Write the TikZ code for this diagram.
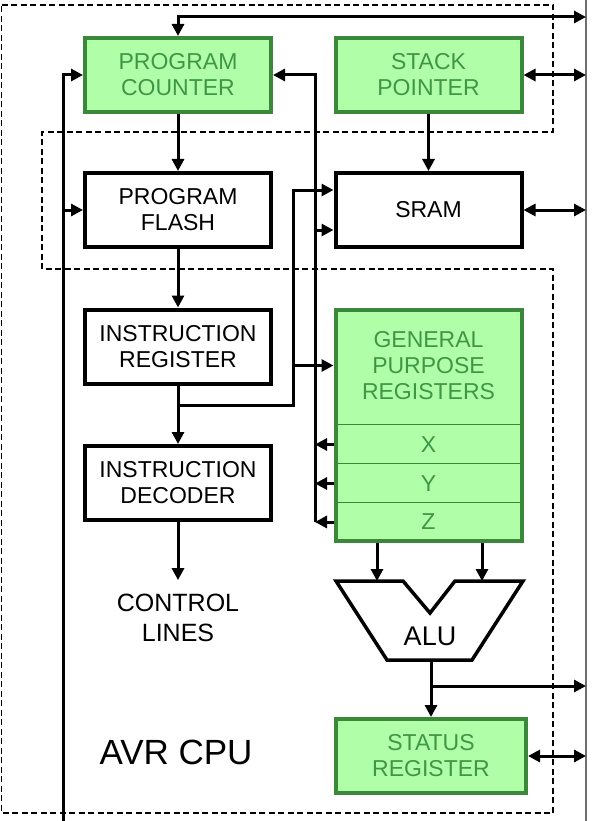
\documentclass[tikz,border=0pt]{standalone}
\usepackage{fontspec}
\setmainfont{Liberation Sans}
\usepackage{tikz}
\usetikzlibrary{arrows.meta,positioning,calc}
\definecolor{RegFill}{HTML}{B0FFA8}
\definecolor{RegLine}{HTML}{3B883B}
\definecolor{RegText}{HTML}{3F9646}
\definecolor{BusGray}{HTML}{6E6E6E}

\begin{document}
\begin{tikzpicture}[x=1pt,y=-1pt,font=\fontsize{23}{26}\selectfont,
  blk/.style={draw,line width=4pt,minimum width=186pt,minimum height=74pt,align=center,inner sep=0pt},
  reg/.style={blk,draw=RegLine,fill=RegFill,text=RegText},
  regrow/.style={minimum width=185pt,minimum height=39pt,inner sep=0pt,text=RegText},
  e/.style={-{Triangle[length=12pt,width=12pt]},line width=3pt},
  ee/.style={{Triangle[length=12pt,width=12pt]}-{Triangle[length=12pt,width=12pt]},line width=3pt},
  cpu/.style={dash pattern=on 6pt off 3.5pt,line width=1.8pt}]
  \useasboundingbox (0,0) rectangle (605,821);
  \draw[cpu] (1.5,5) -- (553,5) -- (553,132) -- (42,132) -- (42,269) -- (553,269) -- (553,813) -- (1.5,813) -- cycle;
  \node[reg] (pc) at (178,75) {PROGRAM\\COUNTER};
  \node[reg] (sp) at (428.5,75) {STACK\\POINTER};
  \node[blk] (flash) at (178,210) {PROGRAM\\FLASH};
  \node[blk] (sram) at (428.5,210) {SRAM};
  \node[blk] (ir) at (178,346.5) {INSTRUCTION\\REGISTER};
  \node[blk] (idec) at (178,483) {INSTRUCTION\\DECODER};
  \node[reg,minimum height=231pt] (gpr) at (428.5,425.5) {};
  \node[align=center,text=RegText] (gtxt) at (428.5,365.5) {GENERAL\\PURPOSE\\REGISTERS};
  \node[regrow] (rx) at (428.5,444.5) {X};
  \node[regrow] (ry) at (428.5,483.5) {Y};
  \node[regrow] (rz) at (428.5,522) {Z};
  \foreach \r in {rx,ry,rz}
    \draw[RegLine,line width=1.2pt] (\r.north west) -- (\r.north east);
  \node[reg,minimum width=190pt] (sreg) at (431,756) {STATUS\\REGISTER};
  \draw[line width=3.5pt] (336,581) -- (403,581) -- (430,613) -- (455,581) -- (523,581) -- (472,660) -- (387,660) -- cycle;
  \node[font=\fontsize{27}{30}\selectfont] (alu) at (430,636) {ALU};
  \node[align=center,inner sep=0pt,outer ysep=14pt,font=\fontsize{25}{30}\selectfont] (ctl) at (178,618) {CONTROL\\LINES};
  \node[font=\fontsize{35}{40}\selectfont] (cpuname) at (176,752) {AVR CPU};
  \coordinate (rtop) at (586,0);
  \coordinate (rbot) at (586,821);
  \coordinate (top) at (586,17);
  \coordinate (lbus) at (63,821);
  \coordinate (abus) at (315,0);
  \coordinate (j) at (178,405);
  \coordinate (dbus) at (293,405);
  \coordinate (sin1) at ($(sram.west)+(0,-20)$);
  \coordinate (sin2) at ($(sram.west)+(0,20)$);
  \coordinate (ain1) at (377,581);
  \coordinate (ain2) at (482,581);
  \coordinate (aluo) at (431,660);
  \coordinate (aluj) at (431,686);
  \draw[BusGray,line width=1.5pt] (rtop) -- (rbot);
  \draw[ee] (pc.north) |- (top);
  \draw[ee] (sp.east) -- (sp.east -| top);
  \draw[ee] (sram.east) -- (sram.east -| top);
  \draw[ee] (sreg.east) -- (sreg.east -| top);
  \draw[e] (pc) -- (flash);
  \draw[e] (flash) -- (ir);
  \draw[e] (ir) -- (idec);
  \draw[e] (idec) -- (ctl);
  \draw[e] (sp) -- (sram);
  \draw[e] (lbus) |- (pc.west);
  \draw[e] (flash.west -| lbus) -- (flash.west);
  \draw[e] (rz -| abus) -- (pc.east -| abus) -- (pc.east);
  \draw[e] (sin2 -| abus) -- (sin2);
  \foreach \r in {rx,ry,rz}
    \draw[e] (\r -| gpr.west) -- (\r -| abus);
  \draw[e] (j) -- (dbus) |- (sin1);
  \draw[e] (gtxt -| dbus) -- (gtxt -| gpr.west);
  \draw[e] (ain1 |- gpr.south) -- (ain1);
  \draw[e] (ain2 |- gpr.south) -- (ain2);
  \draw[e] (aluo) -- (sreg.north);
  \draw[e] (aluj) -- (aluj -| top);
\end{tikzpicture}
\end{document}
